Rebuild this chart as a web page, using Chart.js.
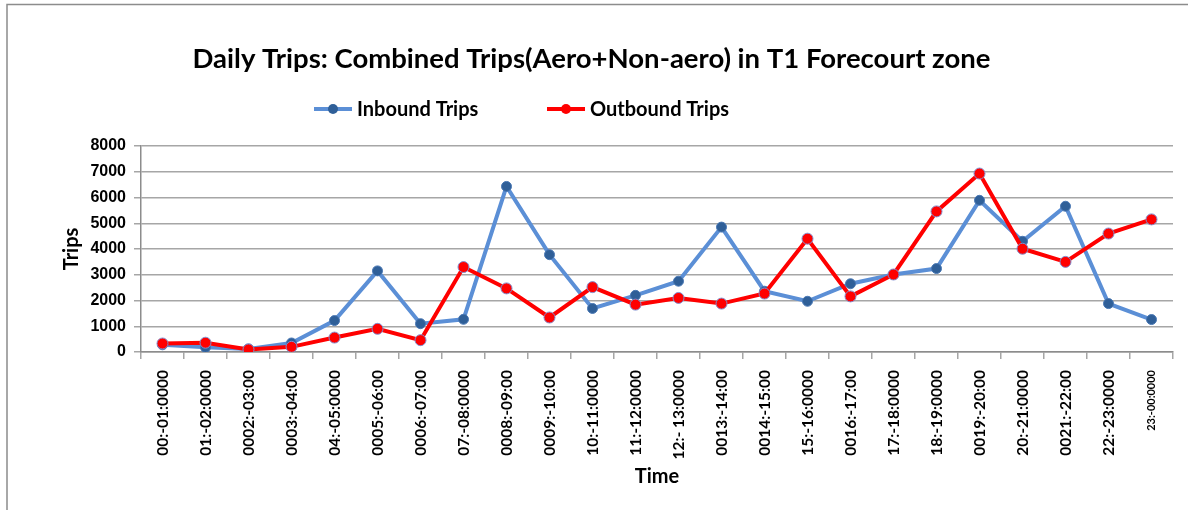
<!DOCTYPE html>
<html>
<head>
<meta charset="utf-8">
<script src="https://cdn.jsdelivr.net/npm/chart.js@4/dist/chart.umd.min.js"></script>
<style>
    html, body { margin: 0; padding: 0; background: #fff; }
    #wrap { width: 1188px; height: 510px; position: relative; }
</style>
</head>
<body>
<div id="wrap"><canvas id="tripsChart"></canvas></div>
<script>
// hourly slots and trip counts
const timeSlots = [
    "00:-01:0000", "01:-02:0000", "0002:-03:00", "0003:-04:00", "04:-05:0000", "0005:-06:00",
    "0006:-07:00", "07:-08:0000", "0008:-09:00", "0009:-10:00", "10:-11:0000", "11:-12:0000",
    "12:- 13:0000", "0013:-14:00", "0014:-15:00", "15:-16:0000", "0016:-17:00", "17:-18:0000",
    "18:-19:0000", "0019:-20:00", "20:-21:0000", "0021:-22:00", "22:-23:0000", "23:-00:0000"
];
const inboundTrips = [280, 180, 120, 350, 1220, 3150, 1100, 1270, 6430, 3780, 1690, 2200,
                      2750, 4850, 2360, 1970, 2650, 3010, 3240, 5890, 4300, 5660, 1880, 1260];
const outboundTrips = [330, 360, 100, 200, 560, 900, 460, 3300, 2470, 1340, 2520, 1840,
                       2100, 1880, 2270, 4400, 2160, 3010, 5460, 6930, 4010, 3500, 4600, 5150];
const yTicks = [0, 1000, 2000, 3000, 4000, 5000, 6000, 7000, 8000];

const BLUE = "#5b8fd6";
const BLUE_DARK = "#2f5f98";
const RED = "#ff0000";
const LABEL_FONT = "Lato";

// frame lines along top and left edge
const framePlugin = {
    id: "frame",
    beforeDraw: (chart) => {
        const { ctx } = chart;
        ctx.save();
        ctx.strokeStyle = "#8c8c8c";
        ctx.lineWidth = 1.5;
        ctx.beginPath();
        ctx.moveTo(7, 510);
        ctx.lineTo(7, 4.5);
        ctx.lineTo(1188, 4.5);
        ctx.stroke();
        ctx.restore();
    },
};

// legend drawn as line + marker, like the series
const lineLegendPlugin = {
    id: "lineLegend",
    afterDraw: (chart) => {
        const { ctx } = chart;
        const items = [
            { text: "Inbound Trips", line: BLUE, dot: BLUE_DARK, x: 314 },
            { text: "Outbound Trips", line: RED, dot: RED, x: 547 },
        ];
        const y = 109;
        ctx.save();
        items.forEach((it) => {
            ctx.strokeStyle = it.line;
            ctx.lineWidth = 4;
            ctx.beginPath();
            ctx.moveTo(it.x, y);
            ctx.lineTo(it.x + 38, y);
            ctx.stroke();
            ctx.fillStyle = it.dot;
            ctx.beginPath();
            ctx.arc(it.x + 19, y, 5, 0, Math.PI * 2);
            ctx.fill();
            ctx.font = "bold 20px " + LABEL_FONT;
            ctx.fillStyle = "#000";
            ctx.textAlign = "left";
            ctx.textBaseline = "middle";
            ctx.fillText(it.text, it.x + 43, y + 1);
        });
        ctx.restore();
    },
};

const ctx = document.getElementById("tripsChart").getContext("2d");
new Chart(ctx, {
    type: "line",
    plugins: [framePlugin, lineLegendPlugin],
    data: {
        labels: timeSlots,
        datasets: [
            {
                label: "Inbound Trips",
                data: inboundTrips,
                borderColor: BLUE,
                borderWidth: 4,
                pointRadius: 5,
                pointBackgroundColor: BLUE_DARK,
                pointBorderColor: "#4a78b4",
                pointBorderWidth: 1,
                tension: 0,
                order: 2,
            },
            {
                label: "Outbound Trips",
                data: outboundTrips,
                borderColor: RED,
                borderWidth: 4,
                pointRadius: 5.5,
                pointBackgroundColor: RED,
                pointBorderColor: "#7f8fd0",
                pointBorderWidth: 1,
                tension: 0,
                order: 1,
            },
        ],
    },
    options: {
        responsive: true,
        maintainAspectRatio: false,
        animation: false,
        layout: { padding: { top: 0, left: 10, right: 15, bottom: 0 } },
        plugins: {
            legend: { display: false },
            tooltip: { enabled: false },
            title: {
                display: true,
                text: "Daily Trips: Combined Trips(Aero+Non-aero) in T1 Forecourt zone",
                color: "#000",
                font: { family: LABEL_FONT, size: 27.5, weight: "bold", lineHeight: 1.2 },
                padding: { top: 43, bottom: 70 },
            },
        },
        scales: {
            x: {
                offset: true,
                afterFit: (scale) => { scale.height = 510 - 352; },
                grid: {
                    offset: true,
                    drawOnChartArea: false,
                    drawTicks: true,
                    tickLength: 7,
                    color: "#a6a6a6",
                    lineWidth: 1.5,
                },
                border: { color: "#8c8c8c", width: 1.5 },
                ticks: {
                    autoSkip: false,
                    minRotation: 90,
                    maxRotation: 90,
                    padding: 11,
                    color: "#000",
                    font: (c) => ({
                        family: LABEL_FONT,
                        weight: "bold",
                        size: c.index === timeSlots.length - 1 ? 11 : 15.5,
                    }),
                },
                title: {
                    display: true,
                    text: "Time",
                    color: "#000",
                    font: { family: LABEL_FONT, size: 20, weight: "bold", lineHeight: 1.2 },
                    padding: { top: 0, bottom: 21 },
                },
            },
            y: {
                min: 0,
                max: 8000,
                afterFit: (scale) => { scale.width = 141 - 10; },
                afterBuildTicks: (scale) => {
                    scale.ticks = yTicks.map((v) => ({ value: v }));
                },
                grid: {
                    color: "#a6a6a6",
                    lineWidth: 1.5,
                    tickLength: 7,
                },
                border: { color: "#8c8c8c", width: 1.5 },
                ticks: {
                    padding: 8,
                    color: "#000",
                    font: { family: "Liberation Sans", size: 16, weight: "bold" },
                    callback: (v) => String(v),
                },
                title: {
                    display: true,
                    text: "Trips",
                    color: "#000",
                    font: { family: LABEL_FONT, size: 20, weight: "bold", lineHeight: 1.2 },
                    padding: { top: 50, bottom: 0 },
                },
            },
        },
    },
});
</script>
</body>
</html>
